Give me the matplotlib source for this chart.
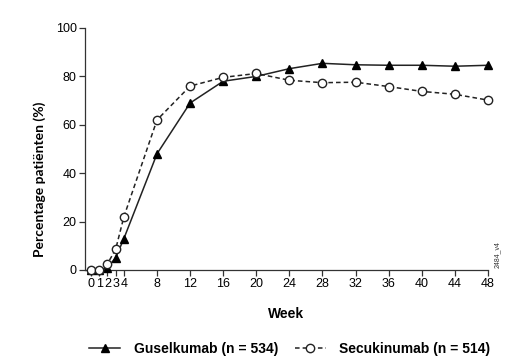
import matplotlib
matplotlib.use("Agg")
import matplotlib.pyplot as plt

plt.rcParams["font.family"] = ["Liberation Sans", "DejaVu Sans"]

weeks = [0, 1, 2, 3, 4, 8, 12, 16, 20, 24, 28, 32, 36, 40, 44, 48]
guselkumab = [0, 0, 1, 5, 13, 48, 69, 78, 80, 83.2, 85.4, 84.8, 84.6, 84.6, 84.2, 84.6]
secukinumab = [0, 0, 2.5, 8.5, 22, 62, 76, 79.6, 81.2, 78.4, 77.4, 77.6, 75.8, 73.8, 72.6, 70.2]
x_ticks = [0, 1, 2, 3, 4, 8, 12, 16, 20, 24, 28, 32, 36, 40, 44, 48]
y_ticks = [0, 20, 40, 60, 80, 100]

fig = plt.figure(figsize=(5.1, 3.64), dpi=100)
ax = fig.add_axes([85 / 510, 1 - 270 / 364, (488 - 85) / 510, (270 - 28) / 364])

ax.plot(weeks, guselkumab, color="#222222", linewidth=1.1, marker="^", markersize=5.5,
        markerfacecolor="black", markeredgecolor="black", clip_on=False, zorder=3,
        label="Guselkumab (n = 534)")
ax.plot(weeks, secukinumab, color="#222222", linewidth=1.1, linestyle=(0, (3, 2)),
        marker="o", markersize=6, markerfacecolor="white", markeredgecolor="#222222",
        clip_on=False, zorder=4, label="Secukinumab (n = 514)")

ax.set_xlim(-0.7, 48)
ax.set_ylim(0, 100)
ax.set_xticks(x_ticks)
ax.set_yticks(y_ticks)
ax.tick_params(labelsize=9, length=4, width=0.9, color="#333333", pad=2)
for side in ["top", "right"]:
    ax.spines[side].set_visible(False)
for side in ["left", "bottom"]:
    ax.spines[side].set_linewidth(0.9)
    ax.spines[side].set_color("#333333")

fig.text(40 / 510, 1 - 179 / 364, "Percentage patiënten (%)", rotation=90, fontsize=10,
         fontweight="bold", family=["Lato", "DejaVu Sans"], ha="center", va="center")
ax.set_xlabel("Week", fontsize=10, fontweight="bold", labelpad=12)

fig.text(497 / 510, 1 - 255 / 364, "2484_v4", rotation=90, fontsize=5, ha="center", va="center",
         color="#333333")

handles, labels = ax.get_legend_handles_labels()
fig.legend(handles, labels, loc="center", bbox_to_anchor=(290 / 510, 1 - 349 / 364), ncol=2,
           frameon=False, prop={"weight": "bold", "size": 10}, handlelength=2.2,
           columnspacing=1.2, handletextpad=1.0)

fig.savefig("out.png", dpi=100)
